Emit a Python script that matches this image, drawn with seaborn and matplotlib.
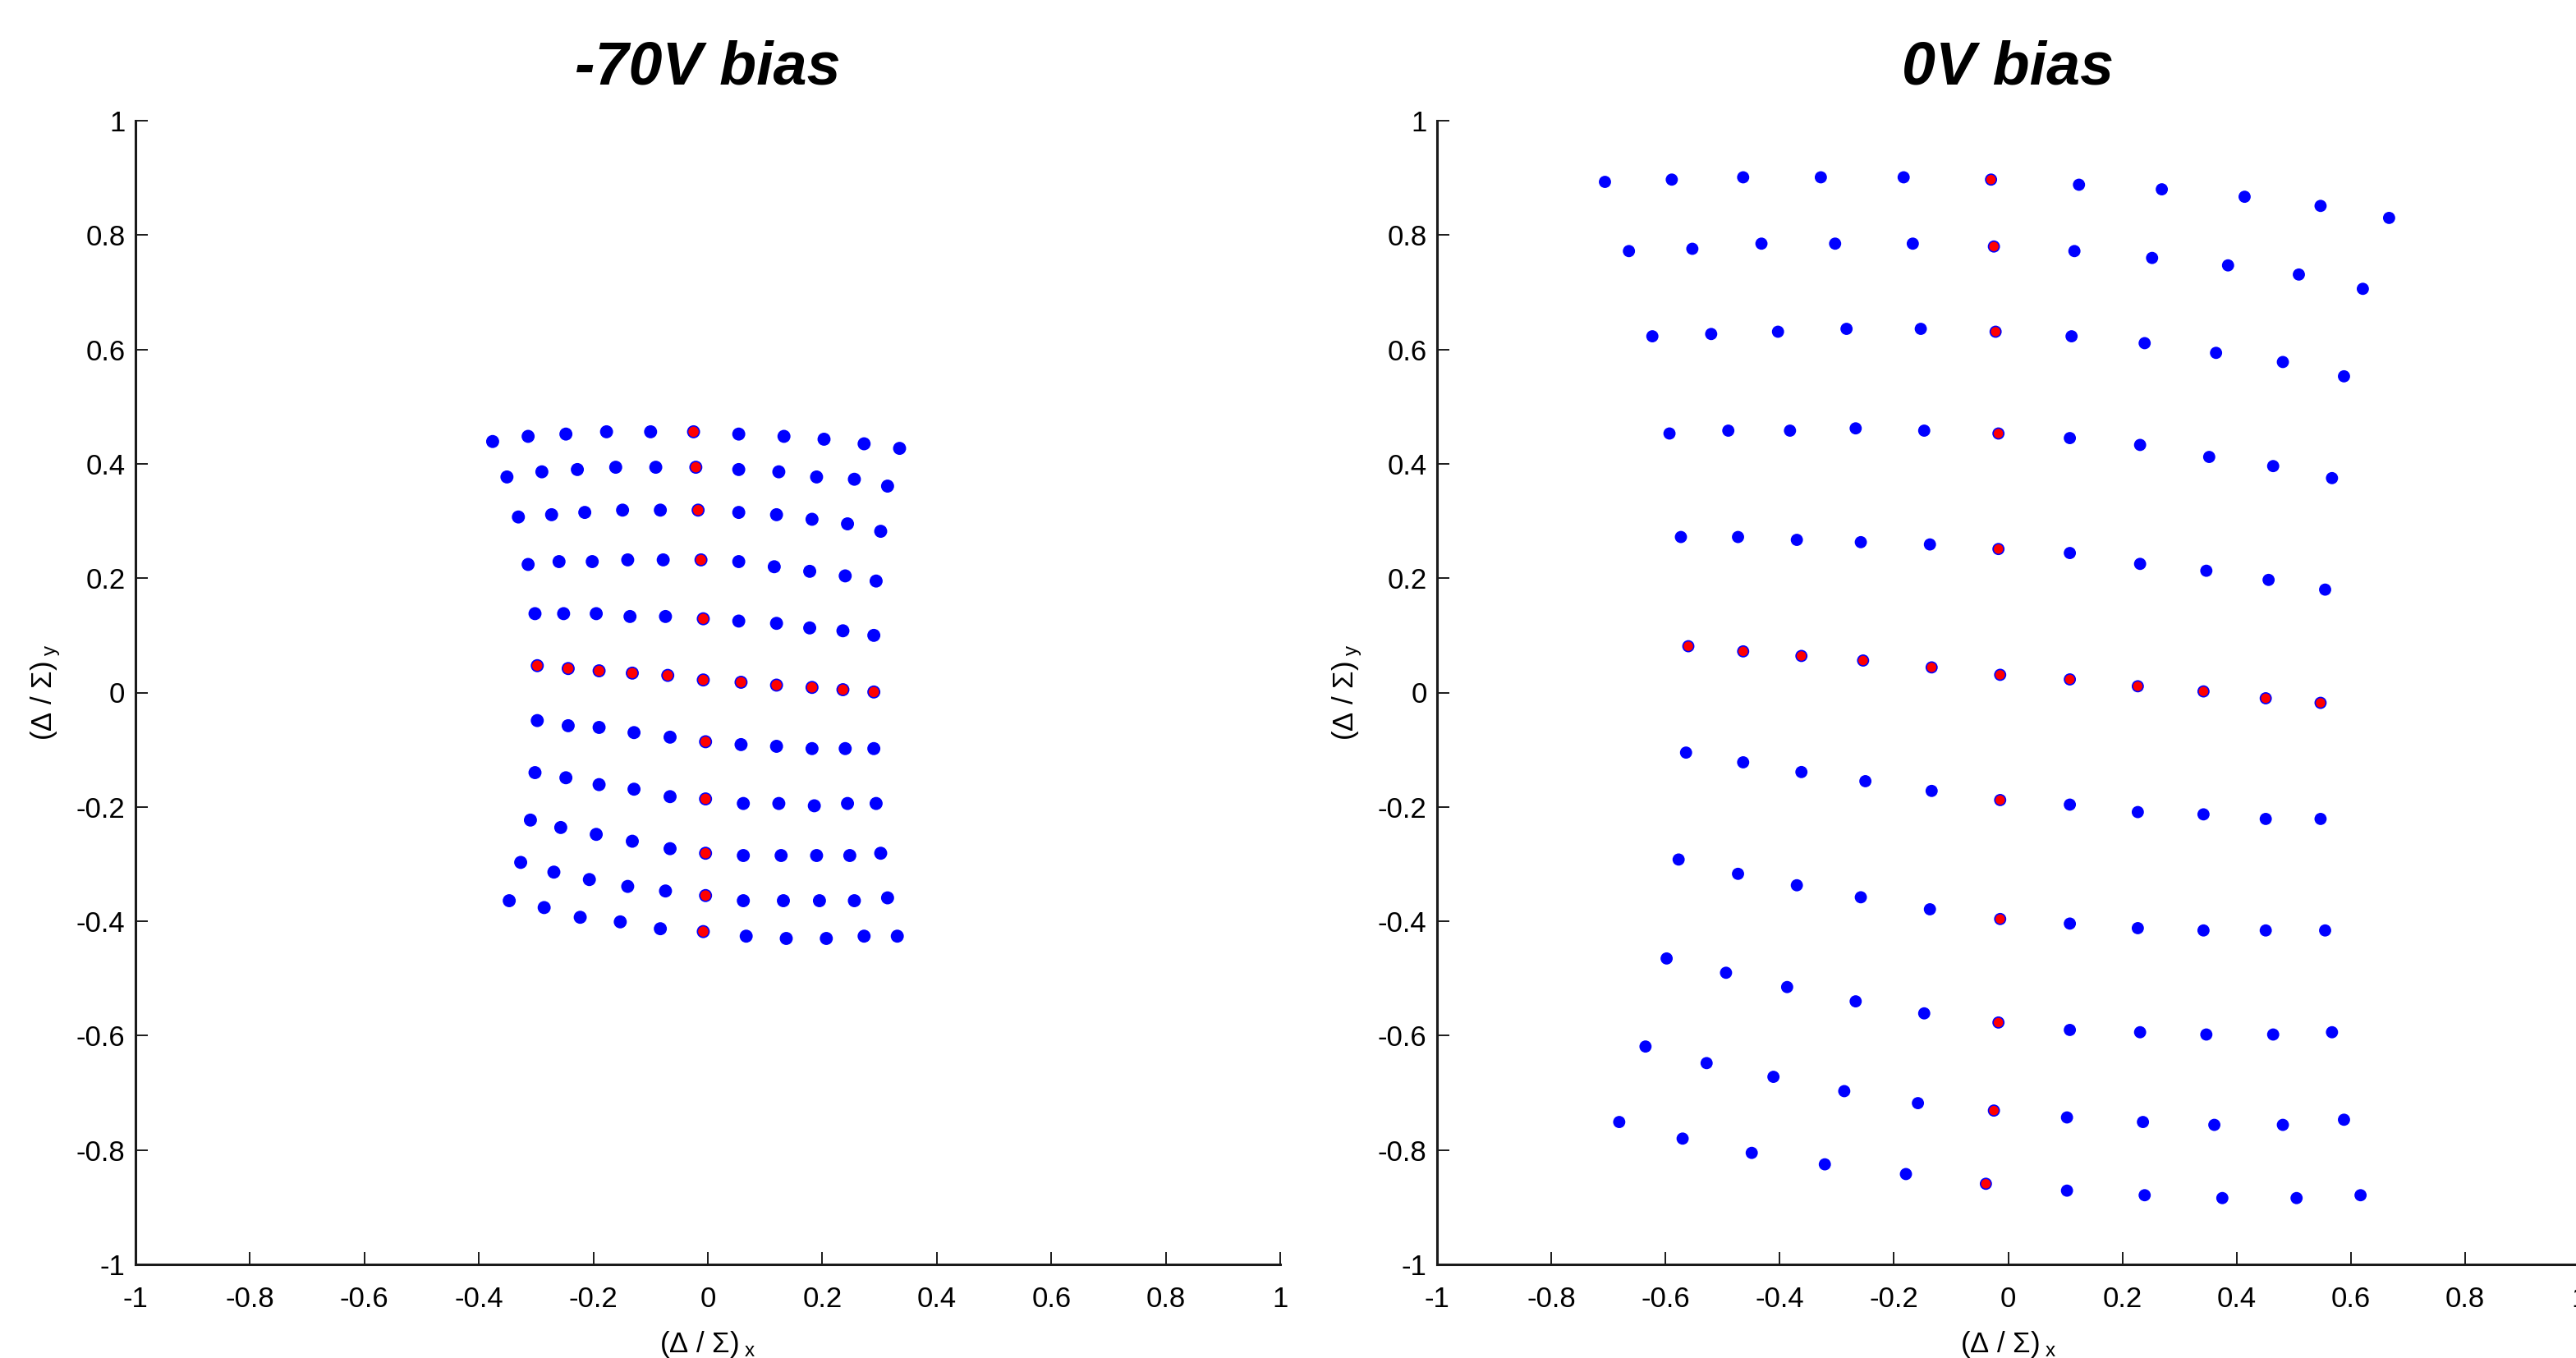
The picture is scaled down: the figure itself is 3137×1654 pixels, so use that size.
import matplotlib
matplotlib.use("Agg")
import matplotlib.pyplot as plt
import pandas as pd
import seaborn as sns

# ---------------- data ----------------
titles = ["-70V bias", "0V bias"]
tick_values = [-1, -0.8, -0.6, -0.4, -0.2, 0, 0.2, 0.4, 0.6, 0.8, 1]
tick_labels = ["-1", "-0.8", "-0.6", "-0.4", "-0.2", "0", "0.2", "0.4", "0.6", "0.8", "1"]
ref_row = 5   # row of reference (red) points
ref_col = 5   # column of reference (red) points

left_x = [
    [-0.376, -0.314, -0.248, -0.177, -0.100, -0.025, 0.054, 0.133, 0.203, 0.273, 0.335],
    [-0.351, -0.290, -0.228, -0.161, -0.091, -0.021, 0.054, 0.124, 0.190, 0.256, 0.314],
    [-0.331, -0.273, -0.215, -0.149, -0.083, -0.017, 0.054, 0.120, 0.182, 0.244, 0.302],
    [-0.314, -0.260, -0.202, -0.140, -0.078, -0.012, 0.054, 0.116, 0.178, 0.240, 0.294],
    [-0.302, -0.252, -0.195, -0.136, -0.074, -0.008, 0.054, 0.120, 0.178, 0.236, 0.290],
    [-0.298, -0.244, -0.190, -0.132, -0.070, -0.008, 0.058, 0.120, 0.182, 0.236, 0.290],
    [-0.298, -0.244, -0.190, -0.129, -0.066, -0.004, 0.058, 0.120, 0.182, 0.240, 0.290],
    [-0.302, -0.248, -0.190, -0.129, -0.066, -0.004, 0.062, 0.124, 0.186, 0.244, 0.294],
    [-0.310, -0.257, -0.195, -0.132, -0.066, -0.004, 0.062, 0.128, 0.190, 0.248, 0.302],
    [-0.327, -0.269, -0.207, -0.140, -0.074, -0.004, 0.062, 0.132, 0.195, 0.256, 0.314],
    [-0.347, -0.286, -0.223, -0.153, -0.083, -0.008, 0.067, 0.137, 0.207, 0.273, 0.331],
]
left_y = [
    [0.439, 0.448, 0.452, 0.456, 0.456, 0.456, 0.452, 0.448, 0.443, 0.435, 0.427],
    [0.377, 0.386, 0.390, 0.394, 0.394, 0.394, 0.390, 0.386, 0.377, 0.373, 0.361],
    [0.307, 0.311, 0.315, 0.319, 0.319, 0.319, 0.315, 0.311, 0.303, 0.295, 0.282],
    [0.224, 0.229, 0.229, 0.232, 0.232, 0.232, 0.229, 0.220, 0.212, 0.204, 0.195],
    [0.138, 0.138, 0.138, 0.133, 0.133, 0.129, 0.125, 0.121, 0.113, 0.108, 0.100],
    [0.047, 0.042, 0.038, 0.034, 0.030, 0.022, 0.018, 0.013, 0.009, 0.005, 0.001],
    [-0.049, -0.058, -0.061, -0.070, -0.078, -0.086, -0.091, -0.094, -0.098, -0.098, -0.098],
    [-0.140, -0.149, -0.161, -0.169, -0.182, -0.186, -0.194, -0.194, -0.198, -0.194, -0.194],
    [-0.223, -0.236, -0.248, -0.260, -0.273, -0.281, -0.285, -0.285, -0.285, -0.285, -0.281],
    [-0.297, -0.314, -0.327, -0.339, -0.347, -0.355, -0.364, -0.364, -0.364, -0.364, -0.359],
    [-0.364, -0.376, -0.393, -0.401, -0.413, -0.418, -0.426, -0.430, -0.430, -0.426, -0.426],
]

right_x = [
    [-0.706, -0.589, -0.464, -0.328, -0.183, -0.030, 0.124, 0.269, 0.414, 0.547, 0.667],
    [-0.664, -0.553, -0.432, -0.303, -0.167, -0.025, 0.116, 0.252, 0.385, 0.509, 0.621],
    [-0.623, -0.520, -0.403, -0.283, -0.153, -0.022, 0.111, 0.239, 0.364, 0.481, 0.588],
    [-0.593, -0.490, -0.382, -0.267, -0.147, -0.017, 0.108, 0.231, 0.352, 0.464, 0.567],
    [-0.573, -0.473, -0.370, -0.258, -0.137, -0.017, 0.108, 0.231, 0.347, 0.456, 0.555],
    [-0.560, -0.464, -0.362, -0.254, -0.134, -0.014, 0.108, 0.227, 0.342, 0.451, 0.547],
    [-0.564, -0.464, -0.362, -0.250, -0.134, -0.014, 0.108, 0.227, 0.342, 0.451, 0.547],
    [-0.577, -0.473, -0.370, -0.258, -0.137, -0.014, 0.108, 0.227, 0.342, 0.451, 0.555],
    [-0.598, -0.494, -0.387, -0.267, -0.147, -0.017, 0.108, 0.231, 0.347, 0.464, 0.567],
    [-0.635, -0.528, -0.411, -0.287, -0.158, -0.025, 0.103, 0.236, 0.361, 0.481, 0.588],
    [-0.681, -0.570, -0.449, -0.321, -0.179, -0.039, 0.103, 0.239, 0.375, 0.505, 0.617],
]
right_y = [
    [0.893, 0.897, 0.901, 0.901, 0.901, 0.897, 0.888, 0.880, 0.867, 0.851, 0.830],
    [0.772, 0.776, 0.785, 0.785, 0.785, 0.780, 0.772, 0.760, 0.747, 0.731, 0.706],
    [0.623, 0.627, 0.631, 0.636, 0.636, 0.631, 0.623, 0.611, 0.594, 0.578, 0.553],
    [0.453, 0.458, 0.458, 0.462, 0.458, 0.453, 0.445, 0.433, 0.412, 0.396, 0.375],
    [0.272, 0.272, 0.267, 0.263, 0.259, 0.251, 0.244, 0.225, 0.213, 0.197, 0.180],
    [0.081, 0.072, 0.064, 0.056, 0.044, 0.031, 0.023, 0.011, 0.002, -0.010, -0.018],
    [-0.105, -0.122, -0.139, -0.155, -0.172, -0.188, -0.196, -0.209, -0.213, -0.221, -0.221],
    [-0.292, -0.317, -0.337, -0.358, -0.379, -0.396, -0.404, -0.412, -0.416, -0.416, -0.416],
    [-0.465, -0.490, -0.515, -0.540, -0.561, -0.577, -0.590, -0.594, -0.598, -0.598, -0.594],
    [-0.619, -0.648, -0.672, -0.697, -0.718, -0.731, -0.743, -0.751, -0.756, -0.756, -0.747],
    [-0.751, -0.780, -0.805, -0.825, -0.842, -0.859, -0.871, -0.879, -0.884, -0.884, -0.879],
]


def make_frame(xs, ys):
    rows = []
    for i, (rx, ry) in enumerate(zip(xs, ys)):
        for j, (x, y) in enumerate(zip(rx, ry)):
            kind = "ref" if (i == ref_row or j == ref_col) else "grid"
            rows.append({"x": x, "y": y, "kind": kind})
    return pd.DataFrame(rows)


# ---------------- style ----------------
sns.set_theme(style="white")
plt.rcParams["font.family"] = ["Liberation Sans", "DejaVu Sans"]
plt.rcParams["text.color"] = "black"
plt.rcParams["axes.labelcolor"] = "black"
plt.rcParams["mathtext.fontset"] = "custom"
plt.rcParams["mathtext.rm"] = "Liberation Sans"
plt.rcParams["mathtext.it"] = "Liberation Sans:italic"
plt.rcParams["mathtext.bf"] = "Liberation Sans:bold"

W, H = 3137, 1654
fig = plt.figure(figsize=(W / 100, H / 100), dpi=100)
fig.patch.set_facecolor("white")

bottom = (H - 1540) / H
height = 1393 / H
ax_left = fig.add_axes([165 / W, bottom, 1394 / W, height])
ax_right = fig.add_axes([1750 / W, bottom, 1391 / W, height])

panels = [
    (ax_left, make_frame(left_x, left_y), titles[0], 105),
    (ax_right, make_frame(right_x, right_y), titles[1], 90),
]

for ax, df, title, size in panels:
    sns.scatterplot(
        data=df, x="x", y="y", hue="kind",
        palette={"grid": "#0000ff", "ref": "#ff0000"},
        s=size, edgecolor="#0000ff", linewidth=1.2,
        legend=False, ax=ax, zorder=3,
    )
    ax.set_xlim(-1, 1)
    ax.set_ylim(-1, 1)
    ax.set_xticks(tick_values)
    ax.set_xticklabels(tick_labels)
    ax.set_yticks(tick_values)
    ax.set_yticklabels(tick_labels)
    ax.set_facecolor("white")
    for side in ("top", "right"):
        ax.spines[side].set_visible(False)
    for side in ("left", "bottom"):
        ax.spines[side].set_visible(True)
        ax.spines[side].set_linewidth(2.2)
        ax.spines[side].set_color("#1a1a1a")
    ax.tick_params(axis="both", direction="in", length=11, width=1.4,
                   colors="#1a1a1a", labelcolor="black", labelsize=25)
    ax.tick_params(axis="x", pad=19, bottom=True)
    ax.tick_params(axis="y", pad=9, left=True)
    ax.set_xlabel(r"$\mathrm{(\Delta\ /\ \Sigma)_{\ x}}$", fontsize=25, labelpad=14, color="black")
    ax.set_ylabel(r"$\mathrm{(\Delta\ /\ \Sigma)_{\ y}}$", fontsize=25, labelpad=12, color="black")
    ax.set_title(title, fontsize=53, fontweight="bold", fontstyle="italic",
                 pad=32, color="black")
    ax.grid(False)

fig.savefig("out.png", dpi=100, facecolor="white")
